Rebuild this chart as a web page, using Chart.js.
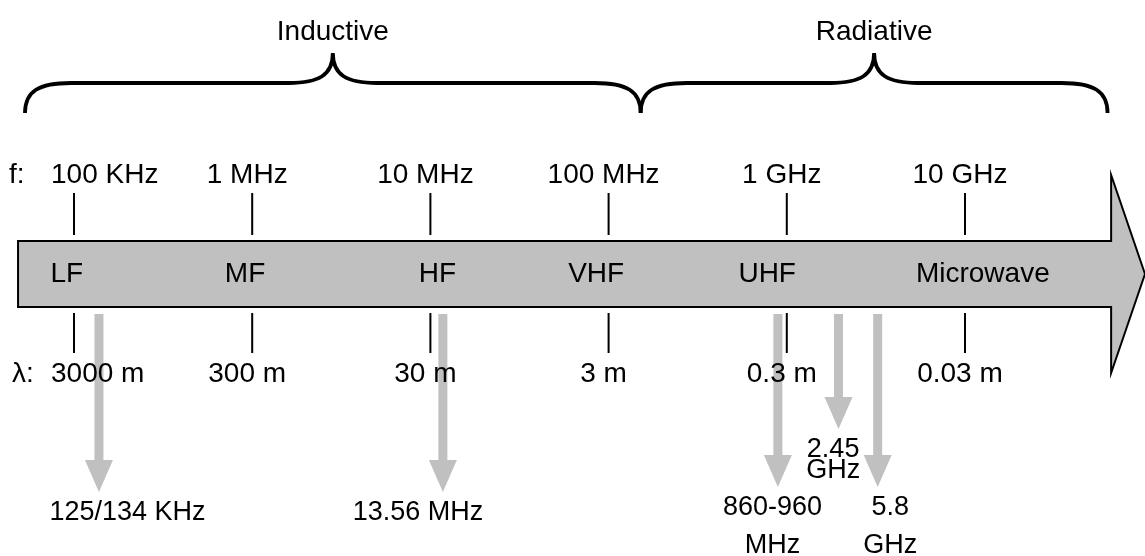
<!DOCTYPE html>
<html>
<head>
<meta charset="utf-8">
<script src="https://cdn.jsdelivr.net/npm/chart.js@4"></script>
<style>
  html, body { margin: 0; padding: 0; background: #fff; }
</style>
</head>
<body>
<canvas id="chart" width="1145" height="556"></canvas>
<script>
// decades on the frequency axis (log10 Hz)
const freqLog = [5, 6, 7, 8, 9, 10];
const freqLabels = ["100 KHz", "1 MHz", "10 MHz", "100 MHz", "1 GHz", "10 GHz"];
const waveLabels = ["3000 m", "300 m", "30 m", "3 m", "0.3 m", "0.03 m"];

// band names and where they sit (log10 Hz)
const bands = ["LF", "MF", "HF", "VHF", "UHF", "Microwave"];
const bandPos = [4.96, 5.96, 7.04, 7.93, 8.89, 10.1];

// coupling regions (braces)
const regions = ["Inductive", "Radiative"];
const regionStart = [4.725, 8.18];
const regionEnd = [8.18, 10.8];

// RFID frequencies marked with grey arrows
const rfidLabels = [["125/134 KHz"], ["13.56 MHz"], ["860-960", "MHz"], ["2.45", "GHz"], ["5.8", "GHz"]];
const rfidPos = [5.14, 7.07, 8.95, 9.29, 9.51];
const rfidLabelPos = [5.3, 6.93, 8.92, 9.26, 9.58];

// layout (pixels on the reversed y scale)
const Y = {
  bodyTop: 241, bodyBot: 307, headTop: 175, headBot: 373,
  tickTop1: 193, tickBot1: 235, tickTop2: 313, tickBot2: 353,
  freqText: 183, waveText: 382, bandText: 282,
  braceEnd: 113, braceFlat: 83, bracePeak: 53, regionText: 40,
  rfidStart: 314
};
const rfidTextY = [520, 520, 515, 457, 515];
const rfidLineGap = [0, 0, 38, 21, 38];
const FONT = '"Liberation Sans", Arial, sans-serif';
const GREY = "#c0c0c0";

// tick marks above and below the arrow, split with null gaps
const tickData = [];
freqLog.forEach((f) => {
  tickData.push({ x: f, y: Y.tickTop1 }, { x: f, y: Y.tickBot1 }, { x: f, y: null });
  tickData.push({ x: f, y: Y.tickTop2 }, { x: f, y: Y.tickBot2 }, { x: f, y: null });
});

// grey shafts of the RFID arrows
const shaftData = [];
rfidPos.forEach((f, i) => {
  shaftData.push({ x: f, y: Y.rfidStart }, { x: f, y: rfidTextY[i] - 60 }, { x: f, y: null });
});

const diagram = {
  id: "diagram",
  beforeDatasetsDraw(chart) {
    const { ctx, scales } = chart;
    const px = (v) => scales.x.getPixelForValue(v);
    const py = (v) => scales.y.getPixelForValue(v);
    // big arrow
    const left = px(4.686), neck = px(10.82), tip = px(11.01);
    ctx.save();
    ctx.beginPath();
    ctx.moveTo(left, py(Y.bodyTop));
    ctx.lineTo(neck, py(Y.bodyTop));
    ctx.lineTo(neck, py(Y.headTop));
    ctx.lineTo(tip, py((Y.headTop + Y.headBot) / 2));
    ctx.lineTo(neck, py(Y.headBot));
    ctx.lineTo(neck, py(Y.bodyBot));
    ctx.lineTo(left, py(Y.bodyBot));
    ctx.closePath();
    ctx.fillStyle = GREY;
    ctx.fill();
    ctx.lineWidth = 2;
    ctx.strokeStyle = "#000";
    ctx.stroke();
    ctx.restore();
  },
  afterDatasetsDraw(chart) {
    const { ctx, scales } = chart;
    const px = (v) => scales.x.getPixelForValue(v);
    const py = (v) => scales.y.getPixelForValue(v);
    ctx.save();
    ctx.fillStyle = "#000";
    ctx.textBaseline = "alphabetic";
    ctx.font = "28px " + FONT;

    // braces + region names
    ctx.lineWidth = 3.8;
    ctx.strokeStyle = "#000";
    regions.forEach((name, i) => {
      const a = px(regionStart[i]), b = px(regionEnd[i]), m = (a + b) / 2;
      const ye = py(Y.braceEnd), yf = py(Y.braceFlat), yp = py(Y.bracePeak);
      ctx.beginPath();
      ctx.moveTo(a, ye);
      ctx.bezierCurveTo(a, ye - 22, a + 14, yf, a + 46, yf);
      ctx.lineTo(m - 44, yf);
      ctx.bezierCurveTo(m - 14, yf, m, yf - 8, m, yp);
      ctx.bezierCurveTo(m, yf - 8, m + 14, yf, m + 44, yf);
      ctx.lineTo(b - 46, yf);
      ctx.bezierCurveTo(b - 14, yf, b, ye - 22, b, ye);
      ctx.stroke();
      ctx.textAlign = "center";
      ctx.fillText(name, m, py(Y.regionText));
    });

    // f: and λ: rows
    ctx.textAlign = "left";
    ctx.fillText("f:", 9, py(Y.freqText));
    ctx.fillText("λ:", 12, py(Y.waveText));
    const minLeft = 51;
    const row = (labels, y) => {
      labels.forEach((t, i) => {
        const w = ctx.measureText(t).width;
        let x = px(freqLog[i]) - 5 - w / 2;
        if (x < minLeft) x = minLeft;
        ctx.textAlign = "left";
        ctx.fillText(t, x, py(y));
      });
    };
    row(freqLabels, Y.freqText);
    row(waveLabels, Y.waveText);

    // band names inside the arrow
    ctx.textAlign = "center";
    bands.forEach((b, i) => ctx.fillText(b, px(bandPos[i]), py(Y.bandText)));

    // RFID arrow heads and labels
    ctx.font = "27px " + FONT;
    rfidPos.forEach((f, i) => {
      const x = px(f);
      const tipY = py(rfidTextY[i] - 28);
      ctx.beginPath();
      ctx.moveTo(x - 14, tipY - 32);
      ctx.lineTo(x + 14, tipY - 32);
      ctx.lineTo(x, tipY);
      ctx.closePath();
      ctx.fillStyle = GREY;
      ctx.fill();
      ctx.fillStyle = "#000";
      rfidLabels[i].forEach((line, k) => {
        ctx.fillText(line, px(rfidLabelPos[i]), py(rfidTextY[i] + k * rfidLineGap[i]));
      });
    });
    ctx.restore();
  }
};

new Chart(document.getElementById("chart"), {
  type: "scatter",
  data: {
    datasets: [
      {
        data: tickData,
        showLine: true,
        spanGaps: false,
        borderColor: "#000",
        borderWidth: 2,
        pointRadius: 0
      },
      {
        data: shaftData,
        showLine: true,
        spanGaps: false,
        borderColor: GREY,
        borderWidth: 9,
        borderCapStyle: "butt",
        pointRadius: 0
      }
    ]
  },
  options: {
    responsive: false,
    animation: false,
    layout: { padding: 0 },
    plugins: { legend: { display: false }, tooltip: { enabled: false } },
    scales: {
      x: { type: "linear", display: false, min: 5 - 74 / 178.2, max: 5 + (1145 - 74) / 178.2 },
      y: { type: "linear", display: false, reverse: true, min: 0, max: 556 }
    }
  },
  plugins: [diagram]
});
</script>
</body>
</html>
